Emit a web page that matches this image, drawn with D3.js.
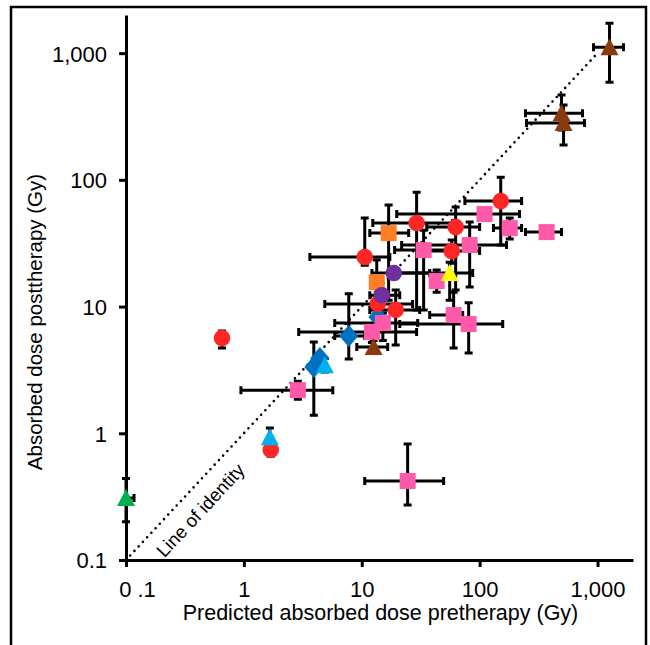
<!DOCTYPE html>
<html>
<head>
<meta charset="utf-8">
<script src="https://cdn.jsdelivr.net/npm/d3@7"></script>
<style>
  html, body { margin: 0; padding: 0; background: #fff; }
  svg text { font-family: "Liberation Sans", Arial, Helvetica, sans-serif; fill: #000; }
</style>
</head>
<body>
<svg id="chart" width="650" height="645"></svg>
<script>
// Each row: [predicted, observed, predLow, predHigh, obsLow, obsHigh]  (Gy); null = no bar
const redCircles = [
  [151, 68, 75, 227, 30.6, 105],
  [29.2, 45.6, 12.4, 59, 9.4, 80],
  [62.6, 42.4, 35.6, 100, 13.5, 61],
  [58, 27.4, 31, 100, 22, 33.5],
  [10.6, 24.6, 3.63, 17.3, 21.2, 49.9],
  [13.7, 10.5, 4.86, 27, 8.1, 12.8],
  [19.4, 9.4, 11.7, 31, 4.97, 13.5],
  [0.652, 5.64, null, null, 4.71, 6.41],
  [1.69, 0.74, null, null, 0.66, 0.82]
];
const pinkSquares = [
  [110, 53.7, 19.8, 218, null, null],
  [180, 41.6, 131, 227, 34.1, 49.9],
  [370, 38.7, 245, 495, null, null],
  [82.3, 30.6, 21.8, 169, 14.3, 46.4],
  [33.5, 27.9, 19, 55.7, 9.4, 40],
  [43.2, 15.9, null, null, 13.0, 19.4],
  [60.2, 8.57, 37.7, 71.8, 4.71, 13.0],
  [80.7, 7.28, 21, 157, 4.3, 10.7],
  [15.1, 7.41, 5.9, 29.8, 5.4, 8.89],
  [12.2, 6.3, 2.92, 29.2, 5.2, 7.1],
  [2.87, 2.19, 0.944, 5.68, 1.86, 2.58],
  [24.5, 0.42, 10.6, 49.5, 0.272, 0.822]
];
const orangeSquares = [
  [16.9, 38, 11.7, 25, 11.2, 63.2],
  [13.4, 15.6, null, null, 11.2, 23.3]
];
const purpleCircles = [
  [18.7, 18.4, 12.2, 37.7, null, null],
  [14.8, 12.3, 11.7, 21, null, null]
];
const yellowTriangles = [
  [55.7, 18.4, 18.3, 87.3, 11.2, 22.4]
];
const brownTriangles = [
  [1264, 1115, 925, 1660, 590, 1725],
  [495, 336, 245, 746, 247, 467],
  [515, 281, 250, 776, 188, 389],
  [12.6, 4.79, 9.07, 16.6, 4.3, 5.4]
];
const blueDiamonds = [
  [13.7, 8.26, null, null, null, null],
  [7.76, 5.85, 5.9, 10.6, 3.85, 12.6],
  [4.41, 3.93, null, null, null, null],
  [3.92, 3.33, null, null, 1.39, 5.25]
];
const cyanTriangles = [
  [4.86, 3.45, null, null, 3.04, 3.9],
  [1.66, 0.93, null, null, 0.8, 1.1]
];
const greenTriangles = [
  [0.1, 0.308, null, 0.117, 0.2, 0.44]
];

const tickValues = [0.1, 1, 10, 100, 1000];
const tickLabelsX = ["0 .1", "1", "10", "100", "1,000"];
const tickLabelsY = ["0.1", "1", "10", "100", "1,000"];
const axisDomain = [0.1, 2000];
const identityRange = [0.1, 1000];

const xTitle = "Predicted absorbed dose pretherapy (Gy)";
const yTitle = "Absorbed dose posttherapy (Gy)";
const identityLabel = "Line of identity";
// anchor of the identity label, in axis units (baseline midpoint)
const identityLabelAt = [0.47, 0.228];

// drawing order and appearance of each group
const series = [
  { rows: blueDiamonds, shape: "diamond", color: "#0070c0" },
  { rows: redCircles, shape: "circle", color: "#ff2626" },
  { rows: orangeSquares, shape: "square", color: "#ff7f27" },
  { rows: purpleCircles, shape: "circle", color: "#7030a0" },
  { rows: pinkSquares, shape: "square", color: "#ff5aaa" },
  { rows: brownTriangles, shape: "triangle", color: "#8b3a0e" },
  { rows: cyanTriangles, shape: "triangle", color: "#00b0f0" },
  { rows: yellowTriangles, shape: "triangle", color: "#ffff00" },
  { rows: greenTriangles, shape: "triangle", color: "#00b050" }
];

const svg = d3.select("#chart");
const W = 650, H = 645;
const plot = { left: 126, right: 633, top: 15, bottom: 560 };

const x = d3.scaleLog().domain(axisDomain).range([plot.left, plot.right]);
const y = d3.scaleLog().domain(axisDomain).range([plot.bottom, plot.top]);

// outer frame (open at the bottom edge)
svg.append("path")
  .attr("d", `M11,${H + 2} V7 H646 V${H + 2}`)
  .attr("fill", "none").attr("stroke", "#000").attr("stroke-width", 2.5);

// line of identity
svg.append("line")
  .attr("x1", x(identityRange[0])).attr("y1", y(identityRange[0]))
  .attr("x2", x(identityRange[1])).attr("y2", y(identityRange[1]))
  .attr("stroke", "#000").attr("stroke-width", 2.6)
  .attr("stroke-linecap", "round").attr("stroke-dasharray", "0,6.2");

{
  const lx = x(identityLabelAt[0]), ly = y(identityLabelAt[1]);
  const ang = Math.atan2(y(10) - y(1), x(10) - x(1)) * 180 / Math.PI;
  svg.append("text")
    .attr("transform", `translate(${lx},${ly}) rotate(${ang})`)
    .attr("text-anchor", "middle")
    .attr("font-size", 18.5)
    .text(identityLabel);
}

// error bars
const bars = svg.append("g").attr("stroke", "#000").attr("stroke-width", 3).attr("fill", "none");
const cap = 4;
series.forEach(s => {
  s.rows.forEach(r => {
    const [px, py, xl, xh, yl, yh] = r;
    const cx = x(px), cy = y(py);
    const p = d3.path();
    if (xl != null || xh != null) {
      const a = xl != null ? x(xl) : cx, b = xh != null ? x(xh) : cx;
      p.moveTo(a, cy); p.lineTo(b, cy);
      if (xl != null) { p.moveTo(a, cy - cap); p.lineTo(a, cy + cap); }
      if (xh != null) { p.moveTo(b, cy - cap); p.lineTo(b, cy + cap); }
    }
    if (yl != null || yh != null) {
      const a = yl != null ? y(yl) : cy, b = yh != null ? y(yh) : cy;
      p.moveTo(cx, a); p.lineTo(cx, b);
      if (yl != null) { p.moveTo(cx - cap, a); p.lineTo(cx + cap, a); }
      if (yh != null) { p.moveTo(cx - cap, b); p.lineTo(cx + cap, b); }
    }
    bars.append("path").attr("d", p.toString());
  });
});

// axes
const xAxis = d3.axisBottom(x).tickValues(tickValues).tickSize(7).tickSizeOuter(0)
  .tickFormat((d, i) => tickLabelsX[i]);
const yAxis = d3.axisLeft(y).tickValues(tickValues).tickSize(7).tickSizeOuter(0)
  .tickFormat((d, i) => tickLabelsY[i]);

const gx = svg.append("g").attr("transform", `translate(0,${plot.bottom})`).call(xAxis);
const gy = svg.append("g").attr("transform", `translate(${plot.left},0)`).call(yAxis);
[gx, gy].forEach(g => {
  g.select(".domain").attr("stroke", "#000").attr("stroke-width", 3);
  g.selectAll(".tick line").attr("stroke", "#000").attr("stroke-width", 3);
  g.selectAll(".tick text").attr("font-size", 22).attr("fill", "#000")
    .style("font-family", '"Liberation Sans", Arial, sans-serif');
});
gx.selectAll(".tick text").attr("dy", "0").attr("y", 37)
  .attr("dx", (d, i) => i === 0 ? 11 : 0);
gy.selectAll(".tick text").attr("x", -19).attr("dy", "0.36em");

// markers
const marks = svg.append("g");
function drawMarker(cx, cy, shape, color) {
  if (shape === "circle") {
    marks.append("circle").attr("cx", cx).attr("cy", cy).attr("r", 8.3).attr("fill", color);
  } else if (shape === "square") {
    marks.append("rect").attr("x", cx - 8).attr("y", cy - 8).attr("width", 16).attr("height", 16).attr("fill", color);
  } else if (shape === "triangle") {
    marks.append("path").attr("d", `M${cx},${cy - 9} L${cx + 9},${cy + 8} L${cx - 9},${cy + 8} Z`).attr("fill", color);
  } else if (shape === "diamond") {
    marks.append("path").attr("d", `M${cx},${cy - 11} L${cx + 9.5},${cy} L${cx},${cy + 11} L${cx - 9.5},${cy} Z`).attr("fill", color);
  }
}
series.forEach(s => s.rows.forEach(r => drawMarker(x(r[0]), y(r[1]), s.shape, s.color)));

// axis titles
svg.append("text")
  .attr("x", (plot.left + plot.right) / 2 + 1).attr("y", 620)
  .attr("text-anchor", "middle").attr("font-size", 21.5)
  .text(xTitle);
svg.append("text")
  .attr("transform", `translate(42,322) rotate(-90)`)
  .attr("text-anchor", "middle").attr("font-size", 20.5)
  .text(yTitle);
</script>
</body>
</html>
